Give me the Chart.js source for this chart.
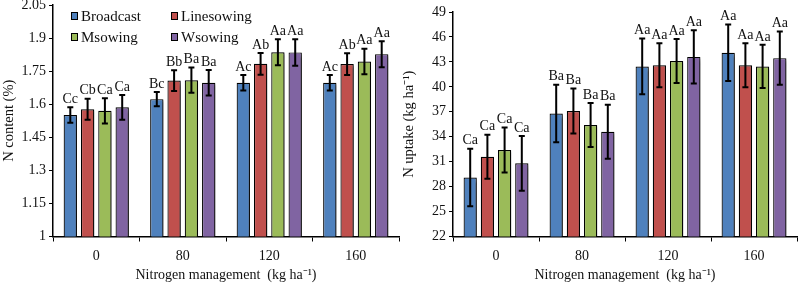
<!DOCTYPE html>
<html>
<head>
<meta charset="utf-8">
<script src="https://cdn.jsdelivr.net/npm/chart.js@4.4.0/dist/chart.umd.min.js"></script>
<style>
  body { margin: 0; background: #fff; }
  canvas { position: absolute; top: 0; }
  #left { left: 0; }
  #right { left: 400px; }
</style>
</head>
<body>
<canvas id="left" width="400" height="284"></canvas>
<canvas id="right" width="398" height="284"></canvas>
<script>
// categories / series
const groups = ["0", "80", "120", "160"];
const series = ["Broadcast", "Linesowing", "Msowing", "Wsowing"];
const colors = ["#4F81BD", "#C0504D", "#9BBB59", "#8064A2"];

// N content (%) per series, one value per nitrogen rate
const contentValues = [
    [1.551, 1.623, 1.697, 1.697],
    [1.577, 1.707, 1.783, 1.782],
    [1.570, 1.709, 1.836, 1.794],
    [1.586, 1.697, 1.835, 1.827]
];
const contentErrors = [
    [0.035, 0.032, 0.035, 0.035],
    [0.048, 0.047, 0.049, 0.049],
    [0.057, 0.057, 0.059, 0.058],
    [0.056, 0.058, 0.060, 0.059]
];
const contentLetters = [
    ["Cc", "Bc", "Ac", "Ac"],
    ["Cb", "Bb", "Ab", "Ab"],
    ["Ca", "Ba", "Aa", "Aa"],
    ["Ca", "Ba", "Aa", "Aa"]
];
const contentTicks = [1, 1.15, 1.3, 1.45, 1.6, 1.75, 1.9, 2.05];

// N uptake (kg ha-1)
const uptakeValues = [
    [29.1, 36.8, 42.45, 44.1],
    [31.6, 37.1, 42.6, 42.6],
    [32.4, 35.4, 43.1, 42.45],
    [30.8, 34.6, 43.6, 43.45]
];
const uptakeErrors = [
    [3.45, 3.45, 3.35, 3.4],
    [2.65, 2.7, 2.65, 2.65],
    [2.7, 2.65, 2.65, 2.6],
    [3.3, 3.25, 3.2, 3.2]
];
const uptakeLetters = [
    ["Ca", "Ba", "Aa", "Aa"],
    ["Ca", "Ba", "Aa", "Aa"],
    ["Ca", "Ba", "Aa", "Aa"],
    ["Ca", "Ba", "Aa", "Aa"]
];
const uptakeTicks = [22, 25, 28, 31, 34, 37, 40, 43, 46, 49];

const serif = "'Liberation Serif', 'Times New Roman', serif";
Chart.defaults.font.family = serif;
Chart.defaults.color = "#111";

// grey drop shadow like the excel bars
const shadowPlugin = {
    id: "barShadow",
    beforeDatasetDraw(chart) {
        const ctx = chart.ctx;
        ctx.save();
        ctx.shadowColor = "rgba(0,0,0,0.5)";
        ctx.shadowOffsetX = 3;
        ctx.shadowOffsetY = 2;
        ctx.shadowBlur = 3;
    },
    afterDatasetDraw(chart) {
        chart.ctx.restore();
    }
};

// error bars + letters above them
const errorPlugin = {
    id: "errorBars",
    afterDatasetsDraw(chart) {
        const ctx = chart.ctx;
        const y = chart.scales.y;
        ctx.save();
        chart.data.datasets.forEach((ds, i) => {
            const meta = chart.getDatasetMeta(i);
            meta.data.forEach((bar, j) => {
                const v = ds.data[j], e = ds.errs[j];
                const top = y.getPixelForValue(v + e);
                const bot = y.getPixelForValue(v - e);
                ctx.strokeStyle = "#000";
                ctx.lineWidth = 2;
                ctx.beginPath();
                ctx.moveTo(bar.x, top);
                ctx.lineTo(bar.x, bot);
                ctx.moveTo(bar.x - 3, top);
                ctx.lineTo(bar.x + 3, top);
                ctx.moveTo(bar.x - 3, bot);
                ctx.lineTo(bar.x + 3, bot);
                ctx.stroke();
                ctx.fillStyle = "#111";
                ctx.font = "14px " + serif;
                ctx.textAlign = "center";
                ctx.textBaseline = "bottom";
                ctx.fillText(ds.letters[j], bar.x, top - 1);
            });
        });
        ctx.restore();
    }
};

// legend drawn inside the plot, two columns
const legendPlugin = {
    id: "innerLegend",
    afterDraw(chart) {
        if (!chart.options.plugins.innerLegend.show) return;
        const ctx = chart.ctx;
        const area = chart.chartArea;
        ctx.save();
        ctx.font = "15px " + serif;
        ctx.textBaseline = "middle";
        ctx.textAlign = "left";
        chart.data.datasets.forEach((ds, i) => {
            const x = area.left + 18 + (i % 2) * 100;
            const yy = 16 + Math.floor(i / 2) * 21;
            ctx.fillStyle = ds.backgroundColor;
            ctx.fillRect(x, yy - 4, 7, 8);
            ctx.strokeStyle = "#000";
            ctx.lineWidth = 1;
            ctx.strokeRect(x + 0.5, yy - 3.5, 6, 7);
            ctx.fillStyle = "#111";
            ctx.fillText(ds.label, x + 10, yy + 1);
        });
        ctx.restore();
    }
};

function makeChart(id, values, errors, letters, ticks, yTitle, topPad, legend) {
    const datasets = series.map((name, i) => ({
        label: name,
        data: values[i],
        errs: errors[i],
        letters: letters[i],
        backgroundColor: colors[i],
        borderColor: "#000",
        borderWidth: 1.2,
        categoryPercentage: 0.8,
        barPercentage: 0.77
    }));
    return new Chart(document.getElementById(id).getContext("2d"), {
        type: "bar",
        data: { labels: groups, datasets: datasets },
        options: {
            responsive: false,
            animation: false,
            layout: { padding: { top: topPad, right: 1 } },
            plugins: {
                legend: { display: false },
                tooltip: { enabled: false },
                innerLegend: { show: legend }
            },
            scales: {
                x: {
                    grid: { offset: true, drawOnChartArea: false, color: "#000", tickLength: 5 },
                    border: { color: "#000", width: 1.5 },
                    ticks: { font: { size: 14 }, padding: 6 },
                    title: {
                        display: true,
                        text: "Nitrogen management  (kg ha\u207B\u00B9)",
                        font: { size: 14 },
                        padding: { top: 7, bottom: 0 }
                    },
                    afterFit(scale) { scale.height = 47.5; }
                },
                y: {
                    min: ticks[0],
                    max: ticks[ticks.length - 1],
                    afterBuildTicks(scale) {
                        scale.ticks = ticks.map(v => ({ value: v }));
                    },
                    grid: { drawOnChartArea: false, color: "#000", tickLength: 4 },
                    border: { color: "#000", width: 1.5 },
                    ticks: {
                        font: { size: 14 },
                        padding: 3,
                        callback: v => String(Number(v.toFixed(2)))
                    },
                    title: {
                        display: true,
                        text: yTitle,
                        font: { size: 14.5 },
                        padding: { top: 0, bottom: 1 }
                    },
                    afterFit(scale) {
                        scale.width = 53;
                        scale.paddingTop = 0;
                        scale.paddingBottom = 0;
                    }
                }
            }
        },
        plugins: [shadowPlugin, errorPlugin, legendPlugin]
    });
}

makeChart("left", contentValues, contentErrors, contentLetters, contentTicks, "N content (%)", 5, true);
makeChart("right", uptakeValues, uptakeErrors, uptakeLetters, uptakeTicks, "N uptake (kg ha\u207B\u00B9)", 12, false);
</script>
</body>
</html>
